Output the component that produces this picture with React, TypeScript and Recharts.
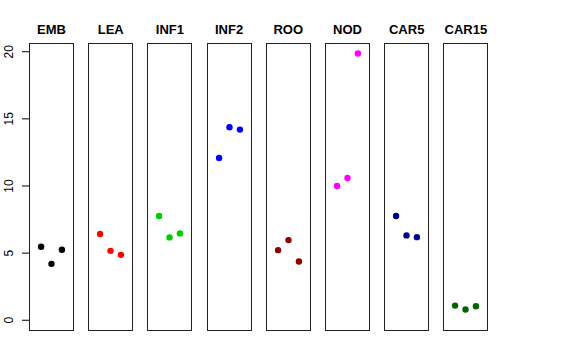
import React from 'react';
import { ScatterChart, Scatter, XAxis, YAxis } from 'recharts';

// one panel per tissue, three replicates each
const groups = ['EMB', 'LEA', 'INF1', 'INF2', 'ROO', 'NOD', 'CAR5', 'CAR15'];
const colors = ['#000000', '#ff0000', '#00cd00', '#0000ff', '#8b0000', '#ff00ff', '#00008b', '#006400'];

const emb   = [5.47, 4.2, 5.25];
const lea   = [6.42, 5.17, 4.87];
const inf1  = [7.76, 6.17, 6.47];
const inf2  = [12.09, 14.38, 14.2];
const roo   = [5.22, 5.97, 4.38];
const nod   = [10.0, 10.6, 19.87];
const car5  = [7.76, 6.32, 6.19];
const car15 = [1.09, 0.8, 1.04];

const replicates = [1, 2, 3];
const yTicks = [0, 5, 10, 15, 20];

const values = [emb, lea, inf1, inf2, roo, nod, car5, car15];

const PANEL_TOP = 43;
const PANEL_H = 288;
const PANEL_W = 45;
const AXIS_W = 29;
const FONT = '"Liberation Sans", Arial, sans-serif';

function Dot(props: any) {
  const { cx, cy, fill } = props;
  return <circle cx={cx} cy={cy} r={3.2} fill={fill} />;
}

function YTick(props: any) {
  const { y, payload } = props;
  return (
    <text
      x={13} y={y} textAnchor="middle" transform={`rotate(-90, 13, ${y})`}
      fontSize={12} fill="#000" fontFamily={FONT}
    >
      {payload.value}
    </text>
  );
}

function Panel({ idx }: { idx: number }) {
  const withAxis = idx === 0;
  const left = 29 + idx * 59.2;
  const data = replicates.map((r, j) => ({ x: r, y: values[idx][j] }));
  const chartLeft = withAxis ? left - AXIS_W : left;
  return (
    <>
      <div style={{
        position: 'absolute', left: left - 10, width: PANEL_W + 20, top: 22,
        textAlign: 'center', fontFamily: FONT, fontWeight: 700, fontSize: 13, color: '#000',
      }}>
        {groups[idx]}
      </div>
      <div style={{ position: 'absolute', left: chartLeft, top: PANEL_TOP }}>
        <ScatterChart
          width={withAxis ? PANEL_W + AXIS_W : PANEL_W} height={PANEL_H}
          margin={{ top: 0, right: 0, bottom: 0, left: 0 }}
        >
          <XAxis type="number" dataKey="x" domain={[-0.16, 4.16]} hide />
          <YAxis
            type="number" dataKey="y" domain={[-0.8, 20.65]}
            ticks={yTicks} hide={!withAxis} width={AXIS_W}
            axisLine={false} tickLine={{ stroke: '#000' }} tickSize={7}
            tick={<YTick />} interval={0}
          />
          <Scatter data={data} fill={colors[idx]} shape={<Dot />} isAnimationActive={false} />
        </ScatterChart>
      </div>
      <div style={{
        position: 'absolute', left, top: PANEL_TOP, width: PANEL_W, height: PANEL_H,
        border: '1px solid #222', boxSizing: 'border-box', pointerEvents: 'none',
      }} />
    </>
  );
}

export default function App() {
  return (
    <div style={{ position: 'absolute', left: 0, top: 0, width: 576, height: 360, background: '#fff' }}>
      {groups.map((g, i) => <Panel key={g} idx={i} />)}
    </div>
  );
}
